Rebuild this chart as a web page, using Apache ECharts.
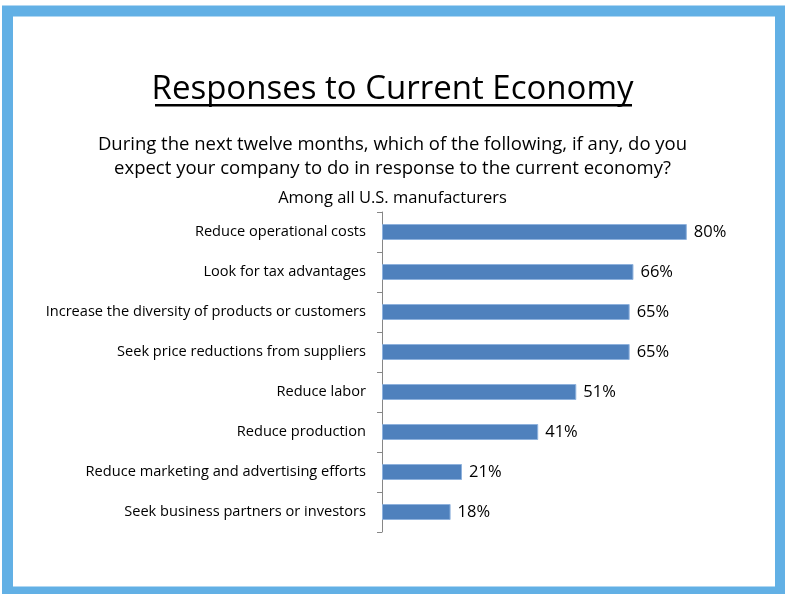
<!DOCTYPE html>
<html>
<head>
<meta charset="utf-8">
<script src="https://cdn.jsdelivr.net/npm/echarts@6/dist/echarts.min.js"></script>
<style>
  html, body { margin: 0; padding: 0; background: #fff; }
  #chart { width: 785px; height: 594px; }
</style>
</head>
<body>
<div id="chart"></div>
<script>
// Survey responses, listed top to bottom
const categories = [
  'Reduce operational costs',
  'Look for tax advantages',
  'Increase the diversity of products or customers',
  'Seek price reductions from suppliers',
  'Reduce labor',
  'Reduce production',
  'Reduce marketing and advertising efforts',
  'Seek business partners or investors'
];
const percentages = [80, 66, 65, 65, 51, 41, 21, 18];

const titleText = 'Responses to Current Economy';
const questionLines = [
  'During the next twelve months, which of the following, if any, do you',
  'expect your company to do in response to the current economy?'
];
const baseText = 'Among all U.S. manufacturers';

const FONT = '"Open Sans", "Noto Sans", sans-serif';

const chart = echarts.init(document.getElementById('chart'), null, { renderer: 'canvas' });

chart.setOption({
  backgroundColor: '#ffffff',
  animation: false,
  title: [
    {
      text: titleText,
      left: 'center',
      top: 72,
      padding: 0,
      textStyle: { fontFamily: FONT, fontSize: 33, fontWeight: 'normal', color: '#000', lineHeight: 36 }
    },
    {
      text: questionLines.join('\n'),
      left: 'center',
      top: 133,
      padding: 0,
      textStyle: { fontFamily: FONT, fontSize: 18.5, fontWeight: 'normal', color: '#000', lineHeight: 24 }
    },
    {
      text: baseText,
      left: 'center',
      top: 188,
      padding: 0,
      textStyle: { fontFamily: FONT, fontSize: 16.5, fontWeight: 'normal', color: '#000', lineHeight: 20 }
    }
  ],
  graphic: [
    // slide frame
    {
      type: 'rect',
      z: -10,
      shape: { x: 7.5, y: 11, width: 773, height: 581 },
      style: { fill: 'none', stroke: '#62B0E5', lineWidth: 11 }
    },
    // title underline
    {
      type: 'rect',
      shape: { x: 155, y: 104, width: 477, height: 2.5 },
      style: { fill: '#000' }
    }
  ],
  grid: { left: 382, top: 212, width: 381, height: 320, containLabel: false },
  xAxis: {
    type: 'value',
    min: 0,
    max: 100,
    show: false
  },
  yAxis: {
    type: 'category',
    data: categories,
    inverse: true,
    axisLine: { show: true, lineStyle: { color: '#868686', width: 1 } },
    axisTick: { show: true, length: 5, lineStyle: { color: '#868686' } },
    axisLabel: { fontFamily: FONT, fontSize: 14.6, color: '#000', margin: 16 },
    splitLine: { show: false }
  },
  series: [
    {
      type: 'bar',
      data: percentages,
      barCategoryGap: '60%',
      itemStyle: { color: '#4F81BD', borderColor: '#8FB2DD', borderWidth: 1 },
      label: {
        show: true,
        position: 'right',
        distance: 7,
        formatter: p => p.value + '%',
        fontFamily: FONT,
        fontSize: 16.5,
        color: '#000'
      }
    }
  ]
});
</script>
</body>
</html>
